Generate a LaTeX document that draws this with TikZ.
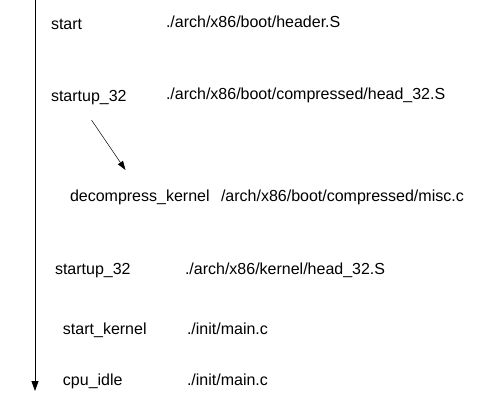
\documentclass[tikz,border=0pt]{standalone}
\usepackage{fontspec}
\setmainfont{Liberation Sans}
\usetikzlibrary{arrows.meta}
\begin{document}
\begin{tikzpicture}[x=1pt,y=-1pt,
  lbl/.style={anchor=base west,inner sep=0pt,outer sep=0pt,font=\fontsize{16}{19}\selectfont},
  conn/.style={draw=black,line width=0.6pt,-{Triangle[length=10pt,width=7pt]}}]
\useasboundingbox[fill=white] (0,0) rectangle (480,400);
\coordinate (top) at (35,0);
\coordinate (bot) at (35,391);
\draw[conn,line width=0.8pt] (top) -- (bot);
\node[lbl] (f1) at (51,29) {start};
\node[lbl] (p1) at (166,27) {./arch/x86/boot/header.S};
\node[lbl] (f2) at (51,101) {startup\_32};
\node[lbl] (p2) at (166,99) {./arch/x86/boot/compressed/head\_32.S};
\node[lbl] (f3) at (70,201) {decompress\_kernel};
\node[lbl] (p3) at (221,201) {/arch/x86/boot/compressed/misc.c};
\node[lbl] (f4) at (55,274) {startup\_32};
\node[lbl] (p4) at (185,274) {./arch/x86/kernel/head\_32.S};
\node[lbl] (f5) at (63,334) {start\_kernel};
\node[lbl] (p5) at (187,334) {./init/main.c};
\node[lbl] (f6) at (63,385) {cpu\_idle};
\node[lbl] (p6) at (187,385) {./init/main.c};
\coordinate (a1) at (91.5,120);
\coordinate (a2) at (125.5,170);
\draw[conn,line width=0.5pt,-{Triangle[length=9pt,width=6pt]}] (a1) -- (a2);
\end{tikzpicture}
\end{document}
